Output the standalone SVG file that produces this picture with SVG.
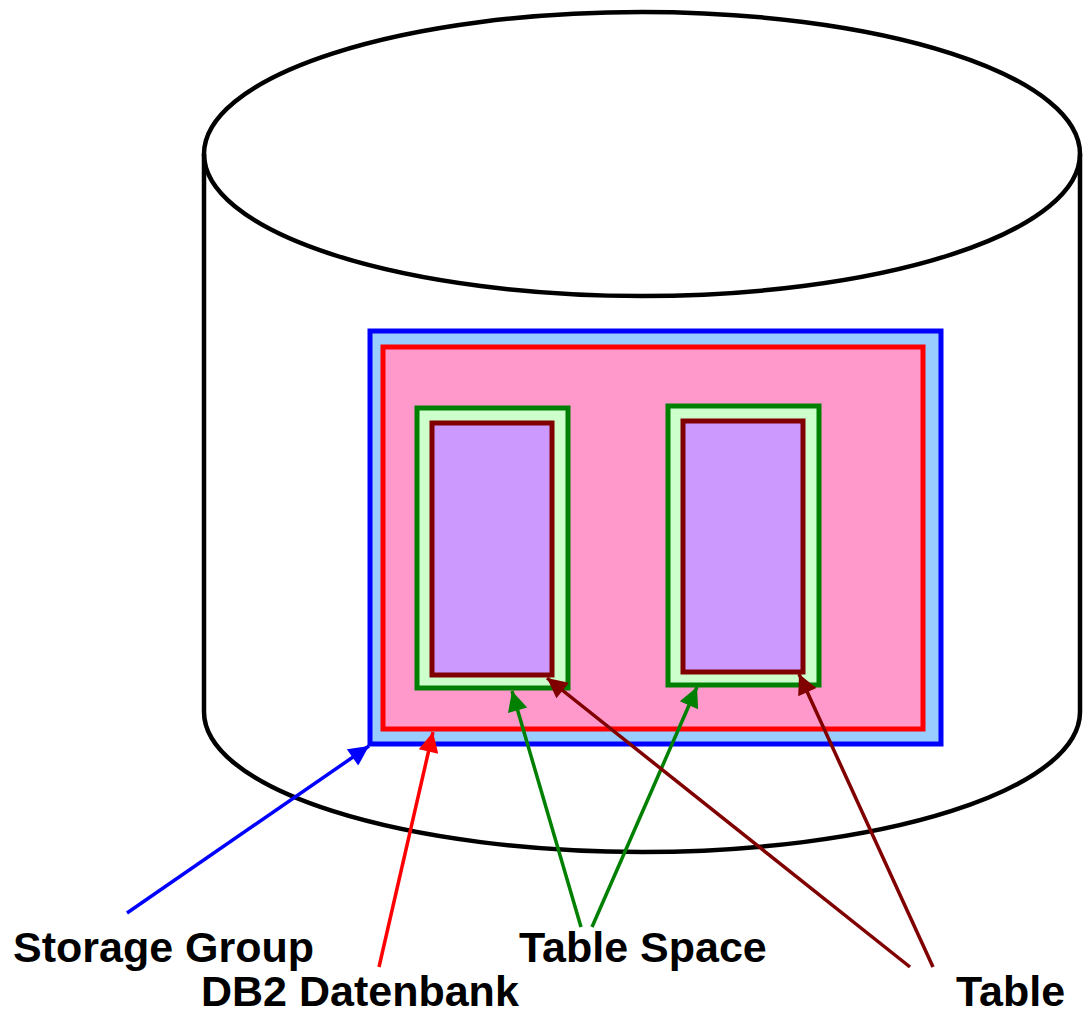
<svg xmlns="http://www.w3.org/2000/svg" width="1084" height="1014" viewBox="0 0 1084 1014">
  <style>
    .cyl { fill: none; stroke: #000; stroke-width: 4.5; }
    .lbl { font-family: "Liberation Sans", Arial, sans-serif; font-weight: bold; font-size: 43px; fill: #000; }
    .sg { fill: #99CCFF; stroke: #0000FF; stroke-width: 5; }
    .db { fill: #FF99CC; stroke: #FF0000; stroke-width: 5; }
    .ts { fill: #CCFFCC; stroke: #008000; stroke-width: 5; }
    .tb { fill: #CC99FF; stroke: #800000; stroke-width: 5; }
    .con { fill: none; stroke-width: 3.5; }
  </style>
  <defs>
    <marker id="ah-blue" viewBox="0 0 10 10" refX="10" refY="5" markerUnits="userSpaceOnUse" markerWidth="27" markerHeight="20" orient="auto">
      <path d="M0,0 L10,5 L0,10 Z" fill="#0000FF"/>
    </marker>
    <marker id="ah-red" viewBox="0 0 10 10" refX="10" refY="5" markerUnits="userSpaceOnUse" markerWidth="27" markerHeight="20" orient="auto">
      <path d="M0,0 L10,5 L0,10 Z" fill="#FF0000"/>
    </marker>
    <marker id="ah-green" viewBox="0 0 10 10" refX="10" refY="5" markerUnits="userSpaceOnUse" markerWidth="27" markerHeight="20" orient="auto">
      <path d="M0,0 L10,5 L0,10 Z" fill="#008000"/>
    </marker>
    <marker id="ah-maroon" viewBox="0 0 10 10" refX="10" refY="5" markerUnits="userSpaceOnUse" markerWidth="27" markerHeight="20" orient="auto">
      <path d="M0,0 L10,5 L0,10 Z" fill="#800000"/>
    </marker>
  </defs>

  <!-- disk cylinder -->
  <g id="disk">
    <path class="cyl" d="M204,154 L204,712 A438,140 0 0 0 1080,712 L1080,154"/>
    <ellipse class="cyl" cx="642" cy="154" rx="438" ry="142" fill="#fff"/>
  </g>

  <g id="storage-group">
    <rect class="sg" x="370" y="331" width="571" height="413"/>
  </g>
  <g id="db2-database">
    <rect class="db" x="383" y="347" width="540" height="382"/>
  </g>
  <g id="tablespace-1">
    <rect class="ts" x="417" y="408" width="151" height="280"/>
  </g>
  <g id="table-1">
    <rect class="tb" x="432" y="423" width="120" height="252"/>
  </g>
  <g id="tablespace-2">
    <rect class="ts" x="668" y="406" width="151" height="279"/>
  </g>
  <g id="table-2">
    <rect class="tb" x="683" y="421" width="120" height="251"/>
  </g>

  <g id="connectors">
    <line class="con" stroke="#0000FF" x1="127" y1="913" x2="369" y2="746" marker-end="url(#ah-blue)"/>
    <line class="con" stroke="#FF0000" x1="379" y1="967" x2="433" y2="732" marker-end="url(#ah-red)"/>
    <line class="con" stroke="#008000" x1="581" y1="927" x2="512" y2="691" marker-end="url(#ah-green)"/>
    <line class="con" stroke="#008000" x1="592" y1="927" x2="697" y2="687" marker-end="url(#ah-green)"/>
    <line class="con" stroke="#800000" x1="910" y1="967" x2="547" y2="678" marker-end="url(#ah-maroon)"/>
    <line class="con" stroke="#800000" x1="933" y1="967" x2="799" y2="674" marker-end="url(#ah-maroon)"/>
  </g>

  <g id="labels">
    <text class="lbl" x="13" y="962">Storage Group</text>
    <text class="lbl" x="201" y="1006">DB2 Datenbank</text>
    <text class="lbl" x="519" y="962">Table Space</text>
    <text class="lbl" x="956" y="1006">Table</text>
  </g>
</svg>
